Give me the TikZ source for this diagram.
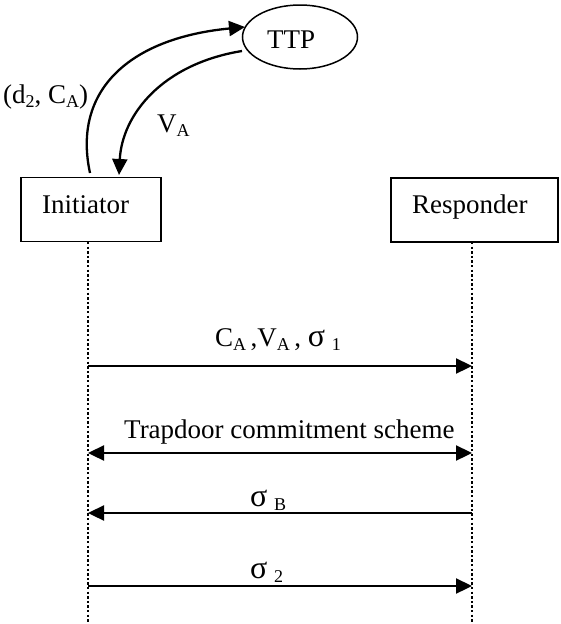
\documentclass[tikz,border=0pt]{standalone}
\usepackage{fontspec}
\setmainfont{Liberation Serif}
\usetikzlibrary{arrows.meta,shapes.geometric}
\newcommand{\lbl}{\fontsize{27}{30}\selectfont}
\newcommand{\sbs}[1]{\raisebox{-4pt}{\fontsize{18}{20}\selectfont #1}}
\newcommand{\sig}{{\fontsize{32}{34}\selectfont σ}}
\begin{document}
\begin{tikzpicture}[x=1pt,y=-1pt,
  tip/.style={-{Triangle[length=16pt,width=15pt]}},
  both/.style={{Triangle[length=16pt,width=15pt]}-{Triangle[length=16pt,width=15pt]}},
  msg/.style={line width=2.3pt},
  lifeline/.style={line width=2.5pt,dash pattern=on 2.4pt off 2.2pt},
  actor/.style={draw,line width=1.7pt,minimum width=140pt,minimum height=64pt,inner sep=0pt},
  txt/.style={inner sep=0pt,anchor=base west,font=\lbl}]
\useasboundingbox (0,0) rectangle (560,624);
% nodes
\node[draw,ellipse,line width=1.5pt,minimum width=115pt,minimum height=64pt,inner sep=0pt] (ttp) at (300,37) {};
\node[txt] (ttpt) at (267,48) {TTP};
\node[actor] (init) at (91,209.5) {};
\node[txt] (initt) at (42,213) {Initiator};
\node[actor,minimum width=167pt] (resp) at (474.5,210) {};
\node[txt] (respt) at (412,213) {Responder};
% lifelines
\coordinate (iTop) at (88,242);
\coordinate (iBot) at (88,624);
\coordinate (rTop) at (472,242);
\coordinate (rBot) at (472,624);
\draw[lifeline] (iTop) -- (iBot);
\draw[lifeline] (rTop) -- (rBot);
% arcs
\coordinate (a1s) at (90,173);
\coordinate (a1e) at (245,27);
\coordinate (a2s) at (242,51);
\coordinate (a2e) at (119,175);
\draw[msg,tip] (a1s) .. controls (72,90) and (130,38) .. (a1e);
\draw[msg,tip] (a2s) .. controls (162,64) and (122,115) .. (a2e);
\node[txt] (l1) at (3,103) {(d\sbs{2}, C\sbs{A})};
\node[txt] (l2) at (157,132) {V\sbs{A}};
% messages
\coordinate (m1a) at (88,366); \coordinate (m1b) at (472,366);
\coordinate (m2a) at (88,453); \coordinate (m2b) at (472,453);
\coordinate (m3a) at (88,513); \coordinate (m3b) at (472,513);
\coordinate (m4a) at (88,586); \coordinate (m4b) at (472,586);
\draw[msg,tip] (m1a) -- (m1b);
\draw[msg,both] (m2a) -- (m2b);
\draw[msg,tip] (m3b) -- (m3a);
\draw[msg,tip] (m4a) -- (m4b);
\node[txt] (t1) at (215,346) {C\sbs{A}\,,V\sbs{A}\,, \sig\ \sbs{1}};
\node[txt] (t2) at (124,438) {Trapdoor commitment scheme};
\node[txt] (t3) at (250,506) {\sig\ \sbs{B}};
\node[txt] (t4) at (250,578) {\sig\ \sbs{2}};
\end{tikzpicture}
\end{document}
